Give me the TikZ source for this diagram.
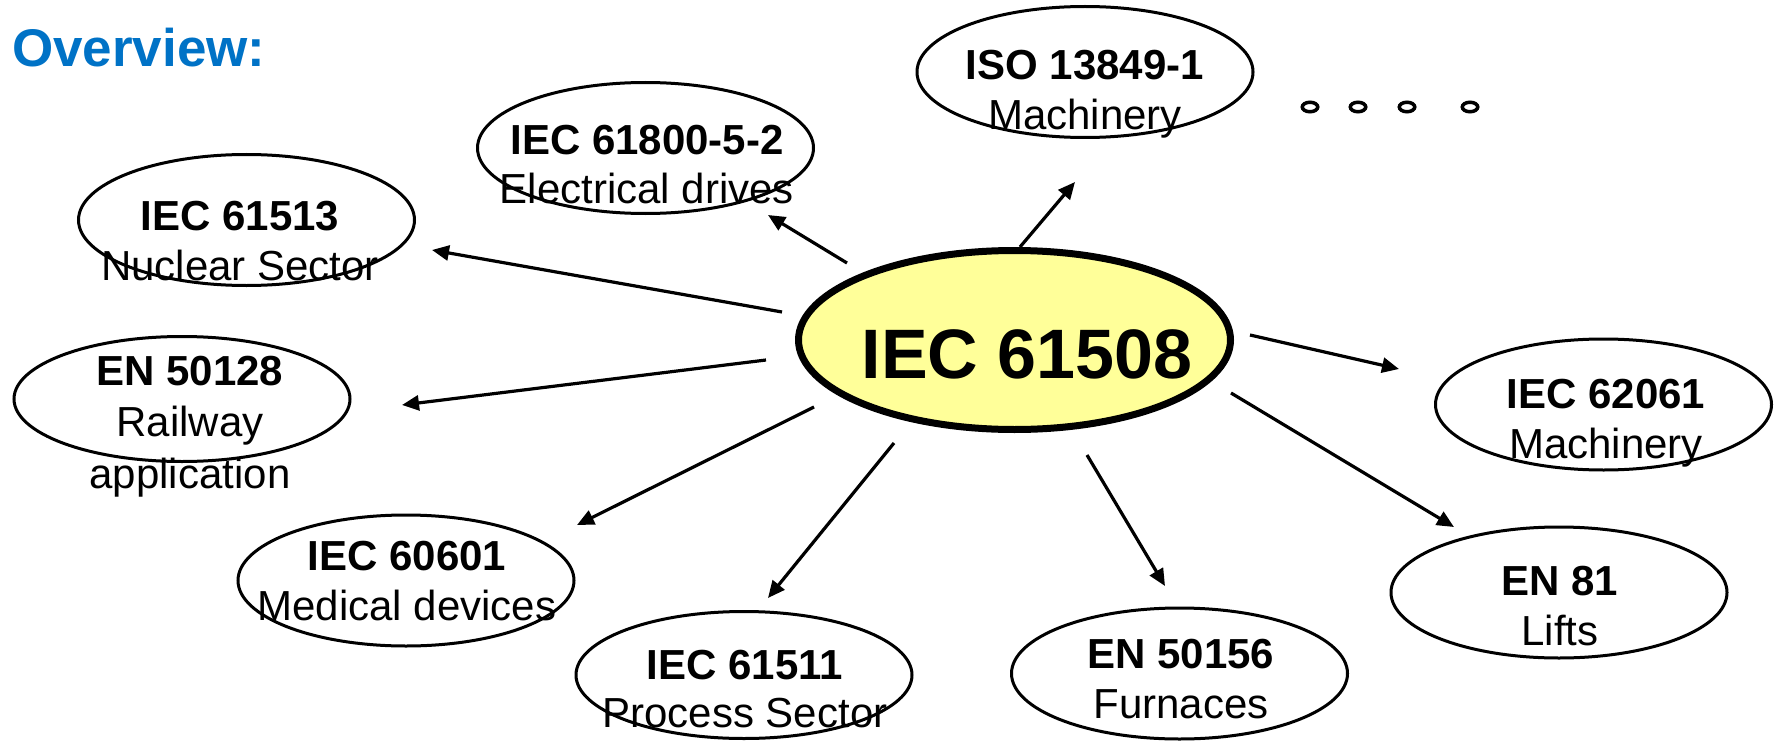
\documentclass[tikz,border=0pt]{standalone}
\usepackage{fontspec}
\setmainfont{Liberation Sans}
\usetikzlibrary{arrows.meta,shapes.geometric}
\definecolor{titleblue}{RGB}{0,114,198}
\definecolor{coreyellow}{RGB}{255,255,153}

\begin{document}
\begin{tikzpicture}[x=1pt,y=-1pt,
  stdnode/.style={ellipse, draw, line width=3pt, minimum width=336pt, minimum height=131pt, inner sep=0pt},
  core/.style={ellipse, draw, line width=7pt, fill=coreyellow, minimum width=432pt, minimum height=179pt, inner sep=0pt},
  % anchored at the baseline of the last line
  lbl/.style={anchor=base, align=center, inner sep=0pt, font=\fontsize{42}{50}\selectfont},
  arr/.style={line width=3.2pt, -{Triangle[length=17pt,width=15pt]}},
  dotmark/.style={ellipse, draw, line width=3.5pt, minimum width=15.5pt, minimum height=9.5pt, inner sep=0pt}
]
\useasboundingbox (0,0) rectangle (1775,741);

% heading
\node[anchor=base west, inner sep=0pt, text=titleblue, font=\bfseries\fontsize{53}{62}\selectfont] (head) at (12,67) {Overview:};

% central standard
\node[core] (c) at (1014.5,340) {};
\node[anchor=base, inner sep=0pt, font=\bfseries\fontsize{70}{84}\selectfont] (ct) at (1027,378) {IEC 61508};

% sector standards
\node[stdnode] (e1) at (246.5,220) {};
\node[stdnode] (e2) at (645.5,148) {};
\node[stdnode] (e3) at (1085,72) {};
\node[stdnode] (e4) at (1603.5,404.5) {};
\node[stdnode] (e5) at (1559,592.5) {};
\node[stdnode] (e6) at (1179.5,673.5) {};
\node[stdnode, minimum height=127pt] (e7) at (744,675) {};
\node[stdnode] (e8) at (406,580.5) {};
\node[stdnode, minimum height=125pt] (e9) at (182,399) {};

\node[lbl] (t1) at (240,280) {\textbf{IEC 61513}\\Nuclear Sector};
\node[lbl] (t2) at (647,204) {\textbf{IEC 61800-5-2}\\Electrical drives};
\node[lbl] (t3) at (1085,130) {\textbf{ISO 13849-1}\\Machinery};
\node[lbl] (t4) at (1606,458) {\textbf{IEC 62061}\\Machinery};
\node[lbl] (t5) at (1560,645) {\textbf{EN 81}\\Lifts};
\node[lbl] (t6) at (1181,718) {\textbf{EN 50156}\\Furnaces};
\node[lbl, font=\fontsize{42}{48}\selectfont] (t7) at (745,727) {\textbf{IEC 61511}\\Process Sector};
\node[lbl] (t8) at (407,620) {\textbf{IEC 60601}\\Medical devices};
\node[lbl, font=\fontsize{42}{51.5}\selectfont] (t9) at (190,488) {\textbf{EN 50128}\\Railway\\application};

% further standards
\node[dotmark] (d1) at (1310,107) {};
\node[dotmark] (d2) at (1358,107) {};
\node[dotmark] (d3) at (1407,107) {};
\node[dotmark] (d4) at (1470,107) {};

% arrow ends
\coordinate (s1) at (782,312);  \coordinate (a1) at (432,250);
\coordinate (s2) at (847,263);  \coordinate (a2) at (768,215);
\coordinate (s3) at (1020,247); \coordinate (a3) at (1075,182);
\coordinate (s4) at (1250,335); \coordinate (a4) at (1399,369);
\coordinate (s5) at (1231,393); \coordinate (a5) at (1454,527);
\coordinate (s6) at (1087,455); \coordinate (a6) at (1165,586);
\coordinate (s7) at (894,443);  \coordinate (a7) at (768,598);
\coordinate (s8) at (814,407);  \coordinate (a8) at (577,525);
\coordinate (s9) at (766,360);  \coordinate (a9) at (402,405);

\foreach \i in {1,...,9} {
  \draw[arr] (s\i) -- (a\i);
}
\end{tikzpicture}
\end{document}
